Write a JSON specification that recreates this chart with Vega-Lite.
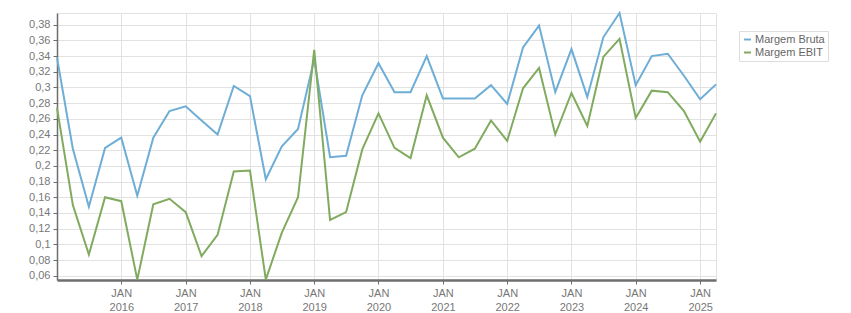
{
  "$schema": "https://vega.github.io/schema/vega-lite/v6.json",
  "width": 659,
  "height": 267,
  "autosize": {"type": "none"},
  "padding": {"left": 57, "top": 13, "right": 135, "bottom": 33},
  "background": "white",
  "config": {
    "font": "Liberation Sans",
    "view": {"stroke": "#e2e2e2", "strokeWidth": 1}
  },
  "data": {
    "values": [
      {"date": "2015-01-01", "Margem Bruta": 0.338, "Margem EBIT": 0.274},
      {"date": "2015-04-01", "Margem Bruta": 0.222, "Margem EBIT": 0.150},
      {"date": "2015-07-01", "Margem Bruta": 0.148, "Margem EBIT": 0.087},
      {"date": "2015-10-01", "Margem Bruta": 0.223, "Margem EBIT": 0.160},
      {"date": "2016-01-01", "Margem Bruta": 0.236, "Margem EBIT": 0.155},
      {"date": "2016-04-01", "Margem Bruta": 0.162, "Margem EBIT": 0.055},
      {"date": "2016-07-01", "Margem Bruta": 0.236, "Margem EBIT": 0.151},
      {"date": "2016-10-01", "Margem Bruta": 0.270, "Margem EBIT": 0.158},
      {"date": "2017-01-01", "Margem Bruta": 0.276, "Margem EBIT": 0.141},
      {"date": "2017-04-01", "Margem Bruta": 0.258, "Margem EBIT": 0.085},
      {"date": "2017-07-01", "Margem Bruta": 0.240, "Margem EBIT": 0.112},
      {"date": "2017-10-01", "Margem Bruta": 0.302, "Margem EBIT": 0.193},
      {"date": "2018-01-01", "Margem Bruta": 0.289, "Margem EBIT": 0.194},
      {"date": "2018-04-01", "Margem Bruta": 0.183, "Margem EBIT": 0.055},
      {"date": "2018-07-01", "Margem Bruta": 0.225, "Margem EBIT": 0.115},
      {"date": "2018-10-01", "Margem Bruta": 0.247, "Margem EBIT": 0.160},
      {"date": "2019-01-01", "Margem Bruta": 0.336, "Margem EBIT": 0.348},
      {"date": "2019-04-01", "Margem Bruta": 0.211, "Margem EBIT": 0.131},
      {"date": "2019-07-01", "Margem Bruta": 0.213, "Margem EBIT": 0.141},
      {"date": "2019-10-01", "Margem Bruta": 0.290, "Margem EBIT": 0.221},
      {"date": "2020-01-01", "Margem Bruta": 0.331, "Margem EBIT": 0.267},
      {"date": "2020-04-01", "Margem Bruta": 0.294, "Margem EBIT": 0.223},
      {"date": "2020-07-01", "Margem Bruta": 0.294, "Margem EBIT": 0.210},
      {"date": "2020-10-01", "Margem Bruta": 0.340, "Margem EBIT": 0.290},
      {"date": "2021-01-01", "Margem Bruta": 0.286, "Margem EBIT": 0.236},
      {"date": "2021-04-01", "Margem Bruta": 0.286, "Margem EBIT": 0.211},
      {"date": "2021-07-01", "Margem Bruta": 0.286, "Margem EBIT": 0.222},
      {"date": "2021-10-01", "Margem Bruta": 0.303, "Margem EBIT": 0.258},
      {"date": "2022-01-01", "Margem Bruta": 0.279, "Margem EBIT": 0.232},
      {"date": "2022-04-01", "Margem Bruta": 0.351, "Margem EBIT": 0.299},
      {"date": "2022-07-01", "Margem Bruta": 0.379, "Margem EBIT": 0.325},
      {"date": "2022-10-01", "Margem Bruta": 0.294, "Margem EBIT": 0.240},
      {"date": "2023-01-01", "Margem Bruta": 0.349, "Margem EBIT": 0.293},
      {"date": "2023-04-01", "Margem Bruta": 0.288, "Margem EBIT": 0.251},
      {"date": "2023-07-01", "Margem Bruta": 0.364, "Margem EBIT": 0.339},
      {"date": "2023-10-01", "Margem Bruta": 0.395, "Margem EBIT": 0.362},
      {"date": "2024-01-01", "Margem Bruta": 0.303, "Margem EBIT": 0.261},
      {"date": "2024-04-01", "Margem Bruta": 0.340, "Margem EBIT": 0.296},
      {"date": "2024-07-01", "Margem Bruta": 0.343, "Margem EBIT": 0.294},
      {"date": "2024-10-01", "Margem Bruta": 0.315, "Margem EBIT": 0.270},
      {"date": "2025-01-01", "Margem Bruta": 0.285, "Margem EBIT": 0.231},
      {"date": "2025-04-01", "Margem Bruta": 0.304, "Margem EBIT": 0.267}
    ]
  },
  "transform": [
    {"fold": ["Margem Bruta", "Margem EBIT"], "as": ["serie", "valor"]}
  ],
  "mark": {"type": "line", "strokeWidth": 2, "clip": false},
  "encoding": {
    "x": {
      "field": "date",
      "type": "temporal",
      "scale": {"type": "utc", "domain": [{"year": 2015, "month": 1, "date": 1, "utc": true}, {"year": 2025, "month": 4, "date": 1, "utc": true}]},
      "axis": {
        "title": null,
        "values": [
          {"year": 2016, "month": 1, "date": 1, "utc": true},
          {"year": 2017, "month": 1, "date": 1, "utc": true},
          {"year": 2018, "month": 1, "date": 1, "utc": true},
          {"year": 2019, "month": 1, "date": 1, "utc": true},
          {"year": 2020, "month": 1, "date": 1, "utc": true},
          {"year": 2021, "month": 1, "date": 1, "utc": true},
          {"year": 2022, "month": 1, "date": 1, "utc": true},
          {"year": 2023, "month": 1, "date": 1, "utc": true},
          {"year": 2024, "month": 1, "date": 1, "utc": true},
          {"year": 2025, "month": 1, "date": 1, "utc": true}
        ],
        "labelExpr": "['JAN', utcFormat(datum.value, '%Y')]",
        "labelLineHeight": 14,
        "labelFontSize": 11,
        "labelColor": "#777777",
        "labelPadding": 3,
        "labelFlush": false,
        "labelOverlap": false,
        "grid": true,
        "gridColor": "#e2e2e2",
        "gridWidth": 1,
        "domainColor": "#6e6e6e",
        "domainWidth": 2.5,
        "tickColor": "#6e6e6e",
        "tickSize": 4,
        "tickWidth": 1
      }
    },
    "y": {
      "field": "valor",
      "type": "quantitative",
      "scale": {"domain": [0.0545, 0.395], "nice": false, "zero": false},
      "axis": {
        "title": null,
        "values": [0.06, 0.08, 0.1, 0.12, 0.14, 0.16, 0.18, 0.2, 0.22, 0.24, 0.26, 0.28, 0.3, 0.32, 0.34, 0.36, 0.38],
        "labelExpr": "replace(format(datum.value, '.2~f'), '.', ',')",
        "labelFontSize": 11,
        "labelColor": "#777777",
        "labelPadding": 3,
        "labelFlush": false,
        "labelOverlap": false,
        "grid": true,
        "gridColor": "#e2e2e2",
        "gridWidth": 1,
        "domainColor": "#6e6e6e",
        "domainWidth": 1.5,
        "tickColor": "#6e6e6e",
        "tickSize": 4,
        "tickWidth": 1
      }
    },
    "color": {
      "field": "serie",
      "type": "nominal",
      "scale": {"domain": ["Margem Bruta", "Margem EBIT"], "range": ["#6eaed6", "#80ab5f"]},
      "legend": {
        "title": null,
        "orient": "none",
        "legendX": 682,
        "legendY": 18,
        "direction": "vertical",
        "symbolType": "stroke",
        "symbolSize": 49,
        "symbolStrokeWidth": 2,
        "labelFontSize": 11,
        "labelColor": "#666666",
        "labelOffset": 2,
        "rowPadding": 1,
        "padding": 3,
        "strokeColor": "#dddddd",
        "fillColor": "white"
      }
    }
  }
}
